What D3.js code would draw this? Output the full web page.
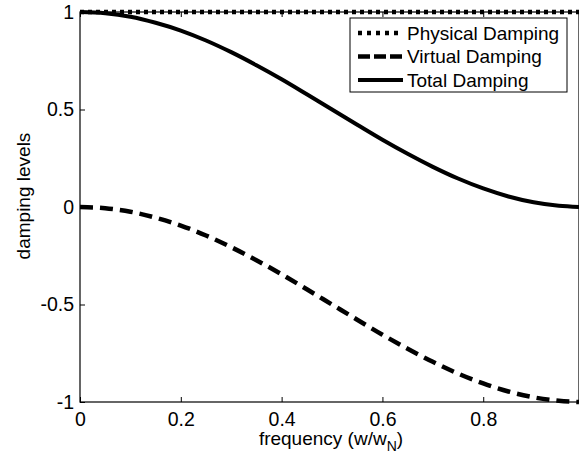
<!DOCTYPE html>
<html>
<head>
<meta charset="utf-8">
<script src="https://cdn.jsdelivr.net/npm/d3@7"></script>
<style>
  html, body { margin: 0; padding: 0; background: #fff; }
  svg { display: block; font-family: "Liberation Sans", Arial, sans-serif; }
</style>
</head>
<body>
<svg id="chart" width="579" height="457"></svg>
<script>
// Normalised frequency samples (w/wN)
const freq = [0, 0.05, 0.1, 0.15, 0.2, 0.25, 0.3, 0.35, 0.4, 0.45, 0.5,
              0.55, 0.6, 0.65, 0.7, 0.75, 0.8, 0.85, 0.9, 0.95, 0.99];
// Damping levels at each frequency
const physical = [1, 1, 1, 1, 1, 1, 1, 1, 1, 1, 1,
                  1, 1, 1, 1, 1, 1, 1, 1, 1, 1];
const virtualD = [0, -0.006, -0.024, -0.055, -0.095, -0.146, -0.206, -0.273, -0.345, -0.422, -0.5,
                  -0.578, -0.655, -0.727, -0.794, -0.854, -0.905, -0.946, -0.976, -0.994, -1.0];
const total = [1, 0.994, 0.976, 0.945, 0.905, 0.854, 0.794, 0.727, 0.655, 0.578, 0.5,
               0.422, 0.345, 0.273, 0.206, 0.146, 0.095, 0.054, 0.024, 0.006, 0.0];
const xTicks = [0, 0.2, 0.4, 0.6, 0.8];
const yTicks = [-1, -0.5, 0, 0.5, 1];
const seriesNames = ["Physical Damping", "Virtual Damping", "Total Damping"];

const svg = d3.select("#chart");
const mLeft = 80, mRight = 579, mTop = 12, mBottom = 402;

const x = d3.scaleLinear().domain([0, 0.99]).range([mLeft, mRight]);
const y = d3.scaleLinear().domain([-1, 1]).range([mBottom, mTop]);

// Line styles: dotted, dashed, solid
const styles = [
  { dash: "4,4", legendDash: "4,5", width: 4.5 },
  { dash: "13,7", legendDash: "12,4", width: 4.5 },
  { dash: null, legendDash: null, width: 4 }
];
const series = [physical, virtualD, total];

const line = d3.line()
  .x((d, i) => x(freq[i]))
  .y(d => y(d))
  .curve(d3.curveMonotoneX);

const plot = svg.append("g");
series.forEach((vals, k) => {
  plot.append("path")
    .datum(vals)
    .attr("d", line)
    .attr("fill", "none")
    .attr("stroke", "#000")
    .attr("stroke-width", styles[k].width)
    .attr("stroke-dasharray", styles[k].dash);
});

// Axes with inward ticks
const fontSize = 19.5;
const xAxis = d3.axisBottom(x).tickValues(xTicks).tickSizeInner(-5).tickSizeOuter(0)
  .tickFormat(d => d === 0 ? "0" : d3.format(".1f")(d));
const gx = svg.append("g").attr("transform", `translate(0,${mBottom})`).call(xAxis);
gx.select(".domain").remove();
gx.selectAll("text").attr("dy", null).attr("y", 24)
  .style("font-size", fontSize + "px").attr("fill", "#000");
gx.selectAll("line").attr("stroke", "#000");

const xAxisTop = d3.axisTop(x).tickValues(xTicks).tickSizeInner(-5).tickSizeOuter(0).tickFormat("");
const gxt = svg.append("g").attr("transform", `translate(0,${mTop})`).call(xAxisTop);
gxt.select(".domain").remove();
gxt.selectAll("line").attr("stroke", "#000");

const yAxis = d3.axisLeft(y).tickValues(yTicks).tickSizeInner(-5).tickSizeOuter(0)
  .tickFormat(d => String(d));
const gy = svg.append("g").attr("transform", `translate(${mLeft},0)`).call(yAxis);
gy.select(".domain").remove();
gy.selectAll("text").attr("x", -6)
  .style("font-size", fontSize + "px").attr("fill", "#000");
gy.selectAll("line").attr("stroke", "#000");

// Frame
svg.append("rect")
  .attr("x", mLeft).attr("y", mTop)
  .attr("width", mRight - mLeft).attr("height", mBottom - mTop)
  .attr("fill", "none").attr("stroke", "#000").attr("stroke-width", 1.2);

// Axis titles
const xt = svg.append("text")
  .attr("x", 331).attr("y", 445)
  .attr("text-anchor", "middle")
  .style("font-size", "19px");
xt.append("tspan").text("frequency (w/w");
xt.append("tspan").attr("dy", 6).style("font-size", "14px").text("N");
xt.append("tspan").attr("dy", -6).text(")");

svg.append("text")
  .attr("transform", `translate(30,196) rotate(-90)`)
  .attr("text-anchor", "middle")
  .style("font-size", "19px")
  .text("damping levels");

// Legend
const lg = svg.append("g");
lg.append("rect")
  .attr("x", 350).attr("y", 18).attr("width", 217).attr("height", 74)
  .attr("fill", "#fff").attr("stroke", "#000").attr("stroke-width", 1);
seriesNames.forEach((name, k) => {
  const cy = 33 + k * 23.5;
  lg.append("line")
    .attr("x1", 358).attr("x2", 403).attr("y1", cy).attr("y2", cy)
    .attr("stroke", "#000")
    .attr("stroke-width", styles[k].width)
    .attr("stroke-dasharray", styles[k].legendDash);
  lg.append("text")
    .attr("x", 407).attr("y", cy).attr("dy", "0.35em")
    .style("font-size", "19px")
    .text(name);
});
</script>
</body>
</html>
